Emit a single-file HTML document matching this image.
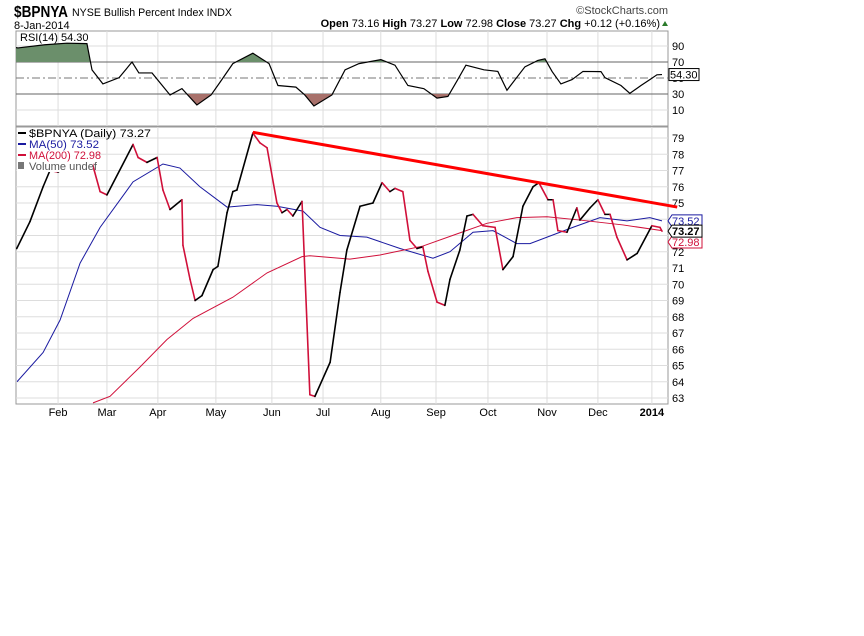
<!DOCTYPE html>
<html><head><meta charset="utf-8"><style>
body{margin:0;background:#fff;width:864px;height:636px;overflow:hidden}
svg{display:block;font-family:"Liberation Sans",sans-serif}
</style></head><body>
<svg id="c" width="864" height="636">
<text x="14" y="17" font-size="16" font-weight="bold" textLength="54" lengthAdjust="spacingAndGlyphs">$BPNYA</text>
<text x="72" y="16" font-size="11" textLength="160" lengthAdjust="spacingAndGlyphs">NYSE Bullish Percent Index  INDX</text>
<text x="14" y="29" font-size="11">8-Jan-2014</text>
<text x="668" y="14" font-size="11" fill="#444" text-anchor="end">©StockCharts.com</text>
<text x="660" y="27" font-size="11" text-anchor="end"><tspan font-weight="bold">Open</tspan> 73.16  <tspan font-weight="bold">High</tspan> 73.27  <tspan font-weight="bold">Low</tspan> 72.98  <tspan font-weight="bold">Close</tspan> 73.27  <tspan font-weight="bold">Chg</tspan> +0.12 (+0.16%)</text>
<polygon points="662,26 668,26 665,21" fill="#2a7a2a"/>
<g id="rsiG"></g>
<g id="mainG"></g>
</svg>
<script>
const priceDays=[0.3,5.5,10.7,13.4,16.6,25,28,30,33.2,35.9,46.2,48.2,51.7,55.7,58,60.8,65.5,65.9,68.7,70.7,73.4,77.8,79.7,83.3,85.6,87.2,93.5,96.3,99.1,103,105,107,109.3,112.9,116,118,124,127.9,130.6,135.8,140.9,144.5,147.6,149.6,152.7,155.5,158.3,160.6,162.6,166.2,169.3,171.3,175.2,178,180.4,184.3,189.1,192.2,196.2,200.1,204.1,206.4,210,212,213.9,217.5,221.4,222.6,226.6,229.7,232.5,234.5,237.2,241.2,245.2,251,254.2,255];
const priceVals=[72.2,73.85,76.0,77.0,76.9,77.8,78.2,77.5,75.7,75.5,78.6,77.8,77.5,77.8,75.8,74.6,75.2,72.4,70.3,69.0,69.3,70.9,71.1,74.4,75.7,75.8,79.3,78.7,78.4,75.0,74.4,74.6,74.2,75.1,63.2,63.1,65.2,69.5,72.1,74.8,75.0,76.25,75.7,75.9,75.7,72.7,72.2,72.3,70.8,68.9,68.7,70.3,72.1,74.2,74.3,73.6,73.5,70.9,71.7,74.8,76.0,76.25,75.2,75.2,73.3,73.2,74.7,73.95,74.7,75.2,74.3,74.3,72.9,71.5,71.9,73.6,73.5,73.27];
const ma50Days=[0.4,10.7,17.4,25.3,33.2,46.2,58,64.7,72.6,83.3,95.1,103,113.3,120,127.9,138.5,151.6,164.6,171.3,180.4,188.3,197.7,202.9,219.8,230.5,241.2,250.2,255];
const ma50Vals=[64.0,65.8,67.8,71.3,73.5,76.3,77.4,77.15,76.0,74.75,74.9,74.8,74.5,73.5,73.0,72.9,72.2,71.6,72.0,73.2,73.3,72.5,72.5,73.5,74.1,73.9,74.1,73.9];
const ma200Days=[30.4,37.1,48.9,59.6,69.9,85.6,99.1,112.9,116,131.8,143.7,160.6,174.1,185.9,197.7,209.6,222.6,239.6,255];
const ma200Vals=[62.7,63.1,64.9,66.6,67.9,69.2,70.7,71.7,71.75,71.55,71.8,72.35,73.1,73.75,74.1,74.15,73.95,73.65,73.3];
const rsiDays=[0,0.8,11.4,20.1,28,30,34.3,40.7,45.8,48.5,53.7,60.8,65.5,71.4,77,80.5,85.6,93.5,99.9,103.4,110.5,114,117.6,124.7,129.9,135.4,144,149.6,154.7,161,166.2,170.5,174.1,177.6,184.7,190.2,193.8,200.9,206,208.8,211.6,215.1,219.5,223.8,230.9,232.5,238.8,242.3,246.7,250.2,253,255];
const rsiVals=[88,87.6,91.6,93.5,93,60.2,42.6,50.4,70,56.3,56.3,28.8,36.7,16.3,28.8,44.5,68,81,68,40.6,38.6,28.8,15,28.8,60.2,68,73,66,40.6,36.7,24.9,26.9,46.5,66,60.2,58.2,34.7,64,72,74,58.2,42.6,48,58.2,58,50.4,40.6,30.8,40.6,48,54,54.3];
const trendDays=[93.5,261];
const trendVals=[79.35,74.75];
const monthLabels=["Feb","Mar","Apr","May","Jun","Jul","Aug","Sep","Oct","Nov","Dec","2014"];
const monthDays=[16.6,35.9,56,78.9,101,121.2,144,165.8,186.3,209.6,229.7,251];
const priceTicks=[63,64,65,66,67,68,69,70,71,72,73,74,75,76,77,78,79];
const rsiTicks=[10,30,50,70,90];

const L=16,R=668;
const x=t=>L+t*(646/255);
const y=v=>138+(79-v)*16.25;
const ry=r=>118-0.8*r;
const NS="http://www.w3.org/2000/svg";
function mk(tag,attrs,parent){const e=document.createElementNS(NS,tag);for(const k in attrs)e.setAttribute(k,attrs[k]);parent.appendChild(e);return e;}
const svg=document.getElementById('c');
const defs=mk('defs',{},svg);
const cpM=mk('clipPath',{id:'cm'},defs);mk('rect',{x:L,y:127,width:R-L,height:277},cpM);
const cpR=mk('clipPath',{id:'cr'},defs);mk('rect',{x:L,y:31,width:R-L,height:95},cpR);
const cpHi=mk('clipPath',{id:'chi'},defs);mk('rect',{x:L,y:31,width:R-L,height:ry(70)-31},cpHi);
const cpLo=mk('clipPath',{id:'clo'},defs);mk('rect',{x:L,y:ry(30),width:R-L,height:126-ry(30)},cpLo);

const rg=document.getElementById('rsiG');
mk('rect',{x:L,y:31,width:R-L,height:95,fill:'#fff',stroke:'#999'},rg);
monthDays.forEach(d=>{const l=mk('line',{x1:x(d),x2:x(d),y1:31,y2:126,stroke:'#ddd'},rg);

});
rsiTicks.forEach(r=>{
 const isK=(r===30||r===70);
 const l=mk('line',{x1:L,x2:R,y1:ry(r),y2:ry(r),stroke:isK?'#666':(r===50?'#777':'#ddd'),'stroke-dasharray':r===50?'8,3,2,3':'none'},rg);
 
 
 const t=mk('text',{x:672,y:ry(r)+4,'font-size':11},rg);t.textContent=r;
 
 
});
const rpts=rsiDays.map((d,i)=>x(d)+','+ry(rsiVals[i])).join(' ');
const hi=mk('polygon',{points:rpts+' '+x(255)+','+ry(70)+' '+x(0)+','+ry(70),fill:'#6b8f6b','clip-path':'url(#chi)'},rg);


const lo=mk('polygon',{points:rpts+' '+x(255)+','+ry(30)+' '+x(0)+','+ry(30),fill:'#a8716b','clip-path':'url(#clo)'},rg);


const rl=mk('polyline',{points:rpts,fill:'none',stroke:'#000','stroke-width':1.2,'clip-path':'url(#cr)'},rg);


const rt=mk('text',{x:20,y:41,'font-size':11},rg);rt.textContent='RSI(14) 54.30';


const rb=mk('rect',{x:669,y:ry(54.3)-6,width:30,height:12,fill:'#fff',stroke:'#000'},rg);


const rbt=mk('text',{x:670,y:ry(54.3)+4,'font-size':11},rg);rbt.textContent='54.30';



const mg=document.getElementById('mainG');
mk('rect',{x:L,y:127,width:R-L,height:277,fill:'#fff',stroke:'#999'},mg);
priceTicks.forEach(v=>{
 const l=mk('line',{x1:L,x2:R,y1:y(v),y2:y(v),stroke:'#ddd'},mg);
 
 
 const t=mk('text',{x:672,y:y(v)+4,'font-size':11},mg);t.textContent=v;
 
 
});
monthDays.forEach((d,i)=>{
 const l=mk('line',{x1:x(d),x2:x(d),y1:127,y2:404,stroke:'#ddd'},mg);
 
 
 const t=mk('text',{x:x(d),y:416,'font-size':11,'text-anchor':'middle','font-weight':i===11?'bold':'normal'},mg);
 t.textContent=monthLabels[i];
 
 
});
const m50=mk('polyline',{points:ma50Days.map((d,i)=>x(d)+','+y(ma50Vals[i])).join(' '),fill:'none',stroke:'#1a1aa0','stroke-width':1,'clip-path':'url(#cm)'},mg);


const m200=mk('polyline',{points:ma200Days.map((d,i)=>x(d)+','+y(ma200Vals[i])).join(' '),fill:'none',stroke:'#d0103a','stroke-width':1,'clip-path':'url(#cm)'},mg);


for(let i=1;i<priceDays.length;i++){
 const up=priceVals[i]>=priceVals[i-1];
 const s=mk('line',{x1:x(priceDays[i-1]),y1:y(priceVals[i-1]),x2:x(priceDays[i]),y2:y(priceVals[i]),stroke:up?'#000':'#d0103a','stroke-width':1.6,'stroke-linecap':'round','clip-path':'url(#cm)'},mg);
 
 
}
const tl=mk('line',{x1:x(trendDays[0]),y1:y(trendVals[0]),x2:x(trendDays[1]),y2:y(trendVals[1]),stroke:'#ff0000','stroke-width':3},svg);


const lg=mk('g',{},mg);


mk('rect',{x:17,y:128,width:76,height:44,fill:'#fff'},lg);
const leg=[['$BPNYA (Daily) 73.27','#000',132],['MA(50) 73.52','#1a1aa0',80],['MA(200) 72.98','#d0103a',82],['Volume undef','#555',78]];
leg.forEach((e,i)=>{
 const yy=137+i*11;
 if(i<3) mk('line',{x1:18,x2:26,y1:yy-4,y2:yy-4,stroke:e[1],'stroke-width':2},lg);
 else mk('rect',{x:18,y:yy-8,width:6,height:7,fill:'#777'},lg);
 const t=mk('text',{x:29,y:yy,'font-size':11,fill:e[1],textLength:e[2]-10,lengthAdjust:'spacingAndGlyphs'},lg);t.textContent=e[0];
 
 
});
[[73.9,'73.52','#1a1aa0'],[72.6,'72.98','#d0103a'],[73.27,'73.27','#000']].forEach(a=>{
 const yy=y(a[0]);
 const b=mk('polygon',{points:`668,${yy} 672,${yy-6} 702,${yy-6} 702,${yy+6} 672,${yy+6}`,fill:'#fff',stroke:a[2]},mg);
 
 
 const t=mk('text',{x:672,y:yy+4,'font-size':11,'font-weight':a[1]==='73.27'?'bold':'normal',fill:a[2]},mg);t.textContent=a[1];
 
 
});
</script>
</body></html>
